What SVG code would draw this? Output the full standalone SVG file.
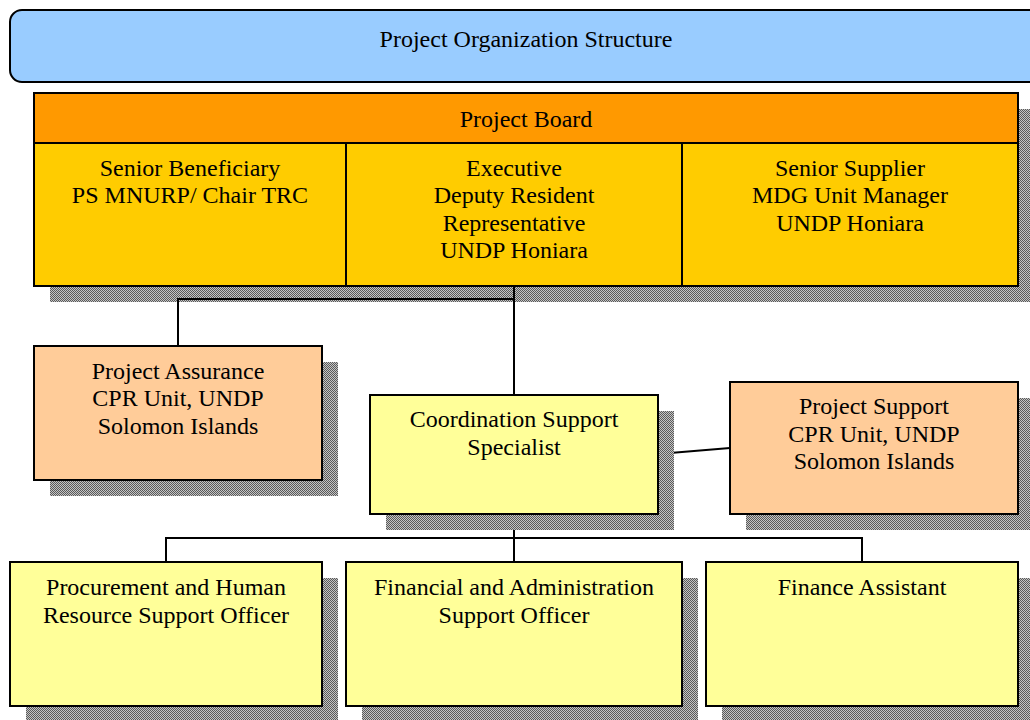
<svg xmlns="http://www.w3.org/2000/svg" width="1030" height="720" viewBox="0 0 1030 720">
  <defs>
    <pattern id="dither" width="2" height="2" patternUnits="userSpaceOnUse">
      <rect width="2" height="2" fill="#c4c4c4"/>
      <rect width="1" height="1" fill="#5a5a5a"/>
      <rect x="1" y="1" width="1" height="1" fill="#5a5a5a"/>
    </pattern>
  </defs>
  <style>
    .box { stroke: #000; stroke-width: 2; }
    .shadow { fill: url(#dither); }
    .board-head { fill: #ff9900; }
    .board-body { fill: #ffcc00; }
    .peach { fill: #ffcc99; }
    .pale { fill: #ffff99; }
    .title { fill: #99ccff; }
    text { font-family: "Liberation Serif", "Times New Roman", serif; font-size: 24px; fill: #000; text-anchor: middle; }
    .conn { stroke: #000; stroke-width: 2; fill: none; }
  </style>

  <g id="title">
    <rect class="box title" x="10" y="10" width="1040" height="72" rx="12" ry="12"/>
    <text x="526" y="47">Project Organization Structure</text>
  </g>

  <g id="project-board">
    <rect class="shadow" x="50" y="109" width="984" height="193"/>
    <rect class="box board-head" x="34" y="93" width="984" height="50"/>
    <rect class="box board-body" x="34" y="143" width="984" height="143"/>
    <line class="conn" x1="346" y1="143" x2="346" y2="286"/>
    <line class="conn" x1="682" y1="143" x2="682" y2="286"/>
    <text x="526" y="127">Project Board</text>
    <g id="senior-beneficiary">
      <text x="190" y="176">Senior Beneficiary</text>
      <text x="190" y="203">PS MNURP/ Chair TRC</text>
    </g>
    <g id="executive">
      <text x="514" y="176">Executive</text>
      <text x="514" y="203">Deputy Resident</text>
      <text x="514" y="231">Representative</text>
      <text x="514" y="258">UNDP Honiara</text>
    </g>
    <g id="senior-supplier">
      <text x="850" y="176">Senior Supplier</text>
      <text x="850" y="203">MDG Unit Manager</text>
      <text x="850" y="231">UNDP Honiara</text>
    </g>
  </g>

  <g id="connectors">
    <polyline class="conn" points="514,286 514,395"/>
    <polyline class="conn" points="514,299 178,299 178,346"/>
    <line class="conn" x1="658" y1="454" x2="730" y2="448"/>
    <polyline class="conn" points="514,514 514,562"/>
    <polyline class="conn" points="166,562 166,538 862,538 862,562"/>
  </g>

  <g id="project-assurance">
    <rect class="shadow" x="50" y="362" width="288" height="134"/>
    <rect class="box peach" x="34" y="346" width="288" height="134"/>
    <text x="178" y="379">Project Assurance</text>
    <text x="178" y="406">CPR Unit, UNDP</text>
    <text x="178" y="434">Solomon Islands</text>
  </g>

  <g id="coordination-support">
    <rect class="shadow" x="386" y="411" width="288" height="119"/>
    <rect class="box pale" x="370" y="395" width="288" height="119"/>
    <text x="514" y="427">Coordination Support</text>
    <text x="514" y="455">Specialist</text>
  </g>

  <g id="project-support">
    <rect class="shadow" x="746" y="398" width="300" height="132"/>
    <rect class="box peach" x="730" y="382" width="288" height="132"/>
    <text x="874" y="414">Project Support</text>
    <text x="874" y="442">CPR Unit, UNDP</text>
    <text x="874" y="469">Solomon Islands</text>
  </g>

  <g id="procurement-officer">
    <rect class="shadow" x="26" y="578" width="312" height="144"/>
    <rect class="box pale" x="10" y="562" width="312" height="144"/>
    <text x="166" y="595">Procurement and Human</text>
    <text x="166" y="623">Resource Support Officer</text>
  </g>

  <g id="finance-admin-officer">
    <rect class="shadow" x="362" y="578" width="336" height="144"/>
    <rect class="box pale" x="346" y="562" width="336" height="144"/>
    <text x="514" y="595">Financial and Administration</text>
    <text x="514" y="623">Support Officer</text>
  </g>

  <g id="finance-assistant">
    <rect class="shadow" x="722" y="578" width="320" height="144"/>
    <rect class="box pale" x="706" y="562" width="312" height="144"/>
    <text x="862" y="595">Finance Assistant</text>
  </g>
</svg>
